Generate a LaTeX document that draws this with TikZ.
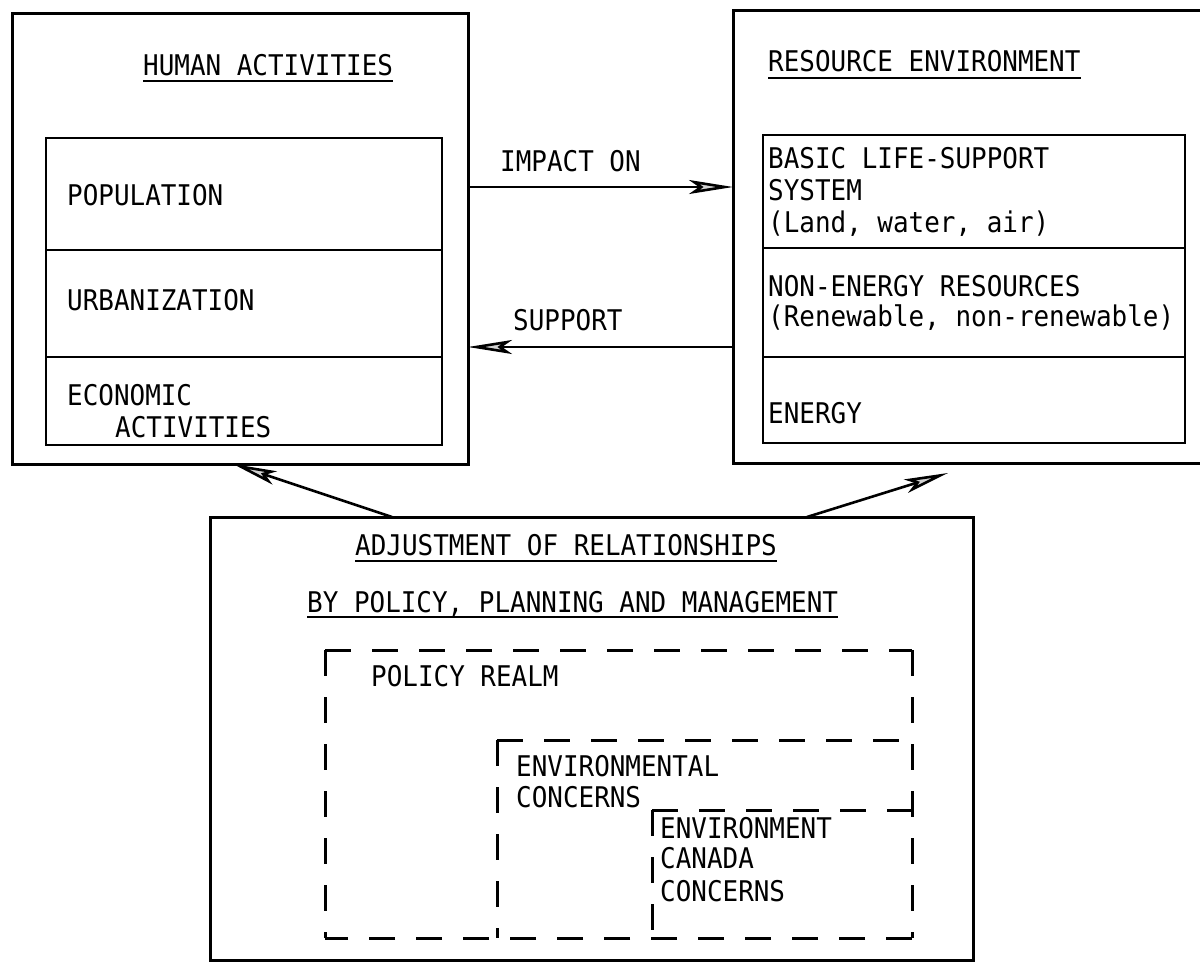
\documentclass[tikz,border=0pt]{standalone}
\usepackage{fontspec}
\setmonofont{DejaVu Sans Mono}[FakeStretch=0.91]
\usetikzlibrary{arrows.meta}
\newcommand{\lbfont}{\ttfamily\fontsize{28.5}{32}\selectfont}
\begin{document}
\begin{tikzpicture}[x=1pt,y=-1pt,
  frame/.style={draw, line width=3pt, inner sep=0pt, outer sep=0pt, anchor=north west},
  cell/.style={draw, line width=2.5pt, inner sep=0pt, outer sep=0pt, anchor=north west},
  region/.style={inner sep=0pt, outer sep=0pt, anchor=north west},
  lbl/.style={font=\lbfont, inner sep=0pt, anchor=base west},
  uline/.style={line width=1.8pt},
  dbox/.style={line width=3pt, dash pattern=on 26pt off 21pt},
  arr/.style={line width=2.6pt, -{Stealth[length=44pt, width=14pt, inset=10pt, fill=gray!35]}}]
\useasboundingbox (0,0) rectangle (1200,962);
\clip (0,0) rectangle (1200,962);
\fill[white] (0,0) rectangle (1200,962);

% main frames
\node[frame, minimum width=456pt, minimum height=451pt] (human) at (12,13) {};
\node[frame, minimum width=480pt, minimum height=453pt] (resource) at (733,10) {};
\node[frame, minimum width=763pt, minimum height=443pt] (adj) at (210,517) {};

% human activities cells
\node[cell, minimum width=396pt, minimum height=112pt] (pop) at (46,138) {};
\node[cell, minimum width=396pt, minimum height=107pt] (urb) at (46,250) {};
\node[cell, minimum width=396pt, minimum height=88pt] (eco) at (46,357) {};

% resource environment cells
\node[cell, minimum width=422pt, minimum height=113pt] (life) at (763,135) {};
\node[cell, minimum width=422pt, minimum height=109pt] (nonen) at (763,248) {};
\node[cell, minimum width=422pt, minimum height=86pt] (enrg) at (763,357) {};

% headings
\node[lbl] (hhead) at (143,75) {HUMAN ACTIVITIES};
\draw[uline] ([yshift=-6pt]hhead.base west) -- ([yshift=-6pt]hhead.base east);
\node[lbl] (rhead) at (768,71) {RESOURCE ENVIRONMENT};
\draw[uline] ([yshift=-7pt]rhead.base west) -- ([yshift=-7pt]rhead.base east);

% cell texts, left
\node[lbl] (tpop) at (67,205) {POPULATION};
\node[lbl] (turb) at (67,310) {URBANIZATION};
\node[lbl] (teco1) at (67,405) {ECONOMIC};
\node[lbl] (teco2) at (115,437) {ACTIVITIES};

% cell texts, right
\node[lbl] (tlife1) at (768,168) {BASIC LIFE-SUPPORT};
\node[lbl] (tlife2) at (768,200) {SYSTEM};
\node[lbl] (tlife3) at (768,232) {(Land, water, air)};
\node[lbl] (tnon1) at (768,296) {NON-ENERGY RESOURCES};
\node[lbl] (tnon2) at (768,326) {(Renewable, non-renewable)};
\node[lbl] (tenrg) at (768,423) {ENERGY};

% relations between the two frames
\coordinate (rowA) at (600,187);
\coordinate (rowB) at (600,347);
\node[lbl] (timp) at (500,171) {IMPACT ON};
\node[lbl] (tsup) at (513,330) {SUPPORT};
\draw[arr] (human.east |- rowA) -- (resource.west |- rowA);
\draw[arr] (resource.west |- rowB) -- (human.east |- rowB);

% adjustment arrows
\coordinate (rtip) at (948,473);
\draw[arr] ([xshift=182pt]adj.north west) -- ([xshift=221pt]human.south west);
\draw[arr] ([xshift=597pt]adj.north west) -- (rtip);

% adjustment headings
\node[lbl] (ahead1) at (355,555) {ADJUSTMENT OF RELATIONSHIPS};
\draw[uline] ([yshift=-6pt]ahead1.base west) -- ([yshift=-6pt]ahead1.base east);
\node[lbl] (ahead2) at (307,612) {BY POLICY, PLANNING AND MANAGEMENT};
\draw[uline] ([yshift=-5pt]ahead2.base west) -- ([yshift=-5pt]ahead2.base east);

% nested policy regions
\node[region, minimum width=587pt, minimum height=288pt] (realm) at (325,650) {};
\node[region, minimum width=415pt, minimum height=198pt] (envc) at (497,740) {};
\node[region, minimum width=260pt, minimum height=128pt] (ecan) at (652,810) {};
\draw[dbox] (realm.north west) -- (realm.north east);
\draw[dbox] (realm.north west) -- (realm.south west);
\draw[dbox] (realm.north east) -- (realm.south east);
\draw[dbox] (realm.south east) -- (realm.south west);
\draw[dbox] (envc.north west) -- (envc.north east);
\draw[dbox] (envc.north west) -- (envc.south west);
\draw[dbox] (ecan.north west) -- (ecan.north east);
\draw[dbox] (ecan.north west) -- (ecan.south west);

\node[lbl] (trealm) at (371,686) {POLICY REALM};
\node[lbl] (tenvc1) at (516,776) {ENVIRONMENTAL};
\node[lbl] (tenvc2) at (516,807) {CONCERNS};
\node[lbl] (tecan1) at (660,838) {ENVIRONMENT};
\node[lbl] (tecan2) at (660,868) {CANADA};
\node[lbl] (tecan3) at (660,901) {CONCERNS};
\end{tikzpicture}
\end{document}
